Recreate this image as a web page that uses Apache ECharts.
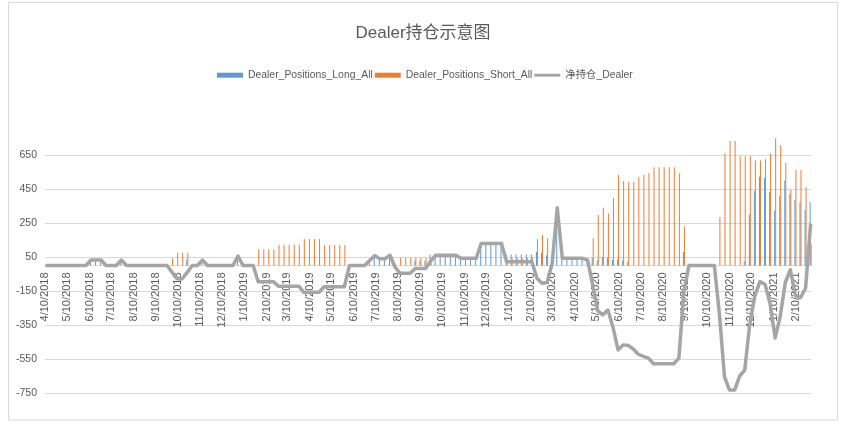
<!DOCTYPE html>
<html>
<head>
<meta charset="utf-8">
<script src="https://cdn.jsdelivr.net/npm/echarts@6/dist/echarts.min.js"></script>
<style>
html,body{margin:0;padding:0;background:#fff;}
#chart{width:846px;height:428px;}
</style>
</head>
<body>
<div id="chart"></div>
<script>
// Weekly report dates (Tuesdays) starting 2018-04-10, 152 weeks
const firstDate = '2018-04-10';
const weekCount = 152;

// Axis tick labels (10th of each month)
const monthLabels = ['4/10/2018','5/10/2018','6/10/2018','7/10/2018','8/10/2018','9/10/2018','10/10/2018','11/10/2018','12/10/2018',
  '1/10/2019','2/10/2019','3/10/2019','4/10/2019','5/10/2019','6/10/2019','7/10/2019','8/10/2019','9/10/2019','10/10/2019','11/10/2019','12/10/2019',
  '1/10/2020','2/10/2020','3/10/2020','4/10/2020','5/10/2020','6/10/2020','7/10/2020','8/10/2020','9/10/2020','10/10/2020','11/10/2020','12/10/2020',
  '1/10/2021','2/10/2021'];

const yTicks = [-750,-550,-350,-150,50,250,450,650];

// Dealer_Positions_Long_All
const longAll = [
  0,0,0,0,0,0,0,0,0,30, 32,32,0,0,0,35,0,0,0,0,
  0,0,0,0,0,0,0,0,35,0, 0,32,0,0,0,0,0,0,55,0,
  0,0,0,0,0,0,0,0,0,0, 0,0,0,0,0,0,0,0,0,0,
  0,0,0,0,30,55,40,40,60,0, 0,0,0,28,28,28,65,60,60,60,
  60,60,42,42,42,42,130,130,130,130, 130,65,65,65,65,65,65,80,75,60,
  15,340,42,42,42,42,42,42,45,30, 50,45,32,35,30,20,0,0,0,0,
  0,0,0,0,0,0,80,0,0,0, 0,0,0,0,0,0,0,0,25,300,
  440,522,515,434,322,410,500,420,385,372, 326,375
];

// Dealer_Positions_Short_All
const shortAll = [
  0,0,0,0,0,0,0,0,0,0, 0,0,0,0,0,0,0,0,0,0,
  0,0,0,0,0,42,75,75,75,0, 0,0,0,0,0,0,0,0,0,0,
  0,0,95,95,95,95,122,122,122,122, 122,156,156,156,156,120,120,120,120,120,
  0,0,0,0,0,0,0,0,0,10, 46,46,46,46,46,46,40,0,0,0,
  0,0,0,0,0,0,0,0,0,0, 0,43,43,43,43,43,43,154,179,160,
  0,0,0,0,0,0,0,10,160,297, 340,307,395,532,497,491,491,522,532,545,
  578,578,578,578,578,542,228,0,0,0, 0,0,0,285,660,733,733,642,642,642,
  617,617,625,660,748,709,603,444,562,562, 460,130
];

// 净持仓_Dealer
const netDealer = [
  0,0,0,0,0,0,0,0,0,32, 32,32,0,0,0,32,0,0,0,0,
  0,0,0,0,0,-40,-78,-78,-40,0, 0,32,0,0,0,0,0,0,55,0,
  0,0,-95,-95,-95,-95,-122,-122,-122,-122, -122,-158,-158,-158,-158,-125,-125,-125,-125,-125,
  0,0,0,0,30,58,40,40,60,-10, -46,-46,-46,-18,-18,-18,25,60,60,60,
  60,60,42,42,42,42,130,130,130,130, 130,22,22,22,22,22,22,-75,-104,-100,
  13,340,42,42,42,42,42,32,-115,-267, -290,-262,-363,-497,-467,-471,-491,-522,-535,-545,
  -578,-578,-578,-578,-578,-545,-150,0,0,0, 0,0,0,-285,-655,-733,-733,-650,-615,-342,
  -177,-95,-110,-226,-426,-300,-100,-25,-177,-190, -134,245
];

function dayNum(y, m, d) { return Date.UTC(y, m - 1, d) / 86400000; }
const fp = firstDate.split('-').map(Number);
const day0 = dayNum(fp[0], fp[1], fp[2]);
const weekOffsets = [];
for (let i = 0; i < weekCount; i++) weekOffsets.push(i * 7);

const labelMap = {};
const labelOffsets = monthLabels.map(s => {
  const p = s.split('/').map(Number);
  const off = dayNum(p[2], p[0], p[1]) - day0;
  labelMap[off] = s;
  return off;
});

const pair = arr => arr.map((v, i) => [weekOffsets[i], v]);

const FONT = "'Liberation Sans', 'Noto Sans CJK SC', sans-serif";
const TXT = '#595959';

const GRID_TOP = 121, GRID_BOTTOM = 35, Y_MIN = -750, Y_MAX = 850;
const plotH = 428 - GRID_TOP - GRID_BOTTOM;
// move the category axis up so that it crosses the value axis at 0
const zeroOffset = -plotH * (0 - Y_MIN) / (Y_MAX - Y_MIN);

const chart = echarts.init(document.getElementById('chart'), null, {renderer: 'canvas'});
chart.setOption({
  animation: false,
  backgroundColor: '#fff',
  textStyle: {fontFamily: FONT},
  title: {
    text: 'Dealer持仓示意图',
    left: 'center',
    top: 25,
    padding: 0,
    textStyle: {fontFamily: FONT, fontSize: 17, fontWeight: 'normal', color: TXT}
  },
  legend: {
    top: 70,
    left: 217,
    padding: 0,
    itemGap: 2,
    itemWidth: 26,
    itemHeight: 5,
    textStyle: {fontFamily: FONT, fontSize: 10.4, color: TXT},
    data: [
      {name: 'Dealer_Positions_Long_All', icon: 'rect'},
      {name: 'Dealer_Positions_Short_All', icon: 'rect'},
      {name: '净持仓_Dealer', icon: 'path://M0,0M0,10M0,2h54v6h-54z'}
    ]
  },
  grid: {left: 45, right: 35, top: GRID_TOP, bottom: GRID_BOTTOM, containLabel: false, outerBoundsMode: 'none'},
  xAxis: {
    type: 'value',
    min: -0.5,
    max: (weekCount - 1) * 7 + 0.5,
    offset: zeroOffset,
    axisLine: {show: true, onZero: false, lineStyle: {color: '#d9d9d9', width: 1}},
    axisTick: {show: false},
    splitLine: {show: false},
    axisLabel: {
      customValues: labelOffsets,
      rotate: 90,
      margin: 7,
      fontSize: 11,
      color: TXT,
      fontFamily: FONT,
      formatter: v => labelMap[Math.round(v)] || ''
    }
  },
  yAxis: {
    type: 'value',
    min: Y_MIN,
    max: Y_MAX,
    interval: 200,
    axisLine: {show: false, onZero: false},
    axisTick: {show: false},
    axisLabel: {
      customValues: yTicks,
      fontSize: 10.5,
      color: TXT,
      margin: 8,
      fontFamily: FONT
    },
    splitLine: {show: true, showMaxLine: false, lineStyle: {color: '#d9d9d9', width: 1}}
  },
  graphic: [{
    type: 'rect',
    shape: {x: 8.5, y: 2.5, width: 829, height: 417.5},
    style: {fill: 'none', stroke: '#d9d9d9', lineWidth: 1},
    silent: true,
    z: -10
  }],
  series: [
    {
      name: 'Dealer_Positions_Long_All',
      type: 'bar',
      data: pair(longAll),
      barWidth: 1,
      barGap: '0%',
      itemStyle: {color: '#5B9BD5'}
    },
    {
      name: 'Dealer_Positions_Short_All',
      type: 'bar',
      data: pair(shortAll),
      barWidth: 1,
      barGap: '0%',
      itemStyle: {color: '#ED7D31'}
    },
    {
      name: '净持仓_Dealer',
      type: 'line',
      data: pair(netDealer),
      symbol: 'none',
      lineStyle: {color: '#A5A5A5', width: 3.5, join: 'round'},
      itemStyle: {color: '#A5A5A5'},
      z: 5
    }
  ]
});
</script>
</body>
</html>
